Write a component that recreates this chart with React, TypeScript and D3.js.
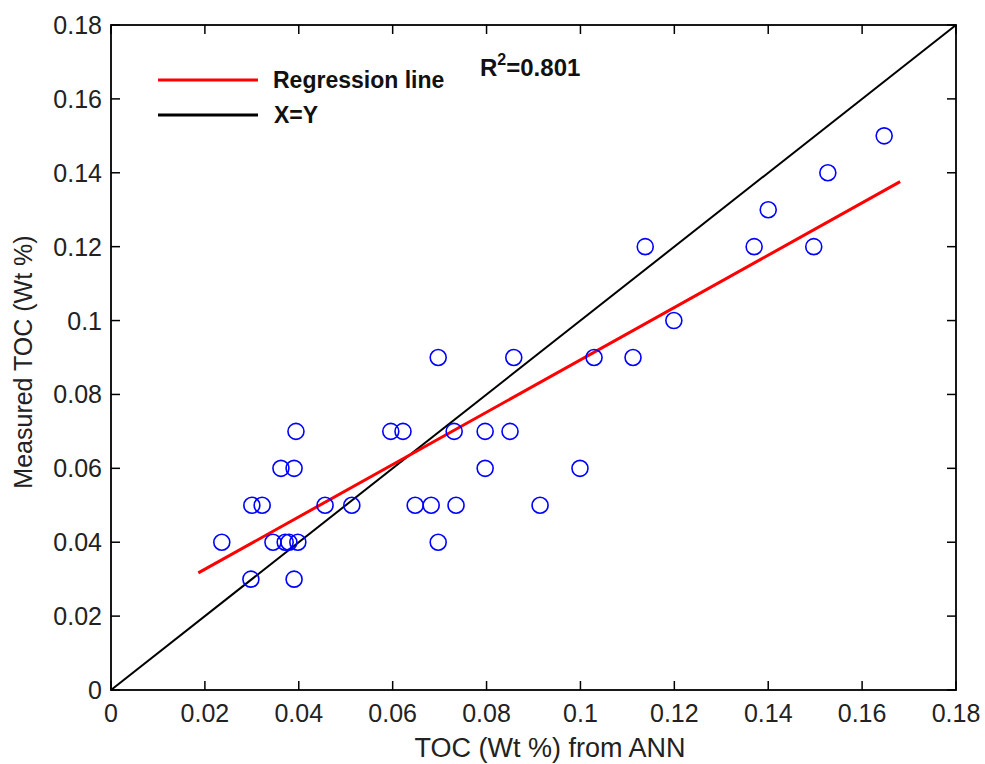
import React from "react";
import * as d3 from "d3";

const annTOC = [
  0.0298, 0.0390,
  0.0236, 0.0345, 0.0371, 0.0379, 0.0398, 0.0697,
  0.0300, 0.0322, 0.0456, 0.0513, 0.0648, 0.0682, 0.0735, 0.0914,
  0.0362, 0.0390, 0.0797, 0.0999,
  0.0394, 0.0596, 0.0622, 0.0731, 0.0797, 0.0850,
  0.0697, 0.0858, 0.1029, 0.1112,
  0.1199,
  0.1138, 0.1370, 0.1497,
  0.1400,
  0.1527,
  0.1647,
];
const measuredTOC = [
  0.03, 0.03,
  0.04, 0.04, 0.04, 0.04, 0.04, 0.04,
  0.05, 0.05, 0.05, 0.05, 0.05, 0.05, 0.05, 0.05,
  0.06, 0.06, 0.06, 0.06,
  0.07, 0.07, 0.07, 0.07, 0.07, 0.07,
  0.09, 0.09, 0.09, 0.09,
  0.10,
  0.12, 0.12, 0.12,
  0.13,
  0.14,
  0.15,
];
const regressionX = [0.0186, 0.1681];
const regressionY = [0.0317, 0.1376];
const identityLine = [0, 0.18];
const tickValues = [0, 0.02, 0.04, 0.06, 0.08, 0.1, 0.12, 0.14, 0.16, 0.18];
const tickLabels = ["0", "0.02", "0.04", "0.06", "0.08", "0.1", "0.12", "0.14", "0.16", "0.18"];
const legendLabels = ["Regression line", "X=Y"];
const rSquared = "0.801";

const W = 985;
const H = 764;
const L = 111, R = 956, T = 25, B = 690;
const TICK = 9;
const FONT = "'Liberation Sans', Arial, sans-serif";

export default function App() {
  const x = d3.scaleLinear().domain([0, 0.18]).range([L, R]);
  const y = d3.scaleLinear().domain([0, 0.18]).range([B, T]);
  const line = d3.line<[number, number]>().x((d) => x(d[0])).y((d) => y(d[1]));
  const reg: [number, number][] = regressionX.map((v, i) => [v, regressionY[i]]);
  const idl: [number, number][] = identityLine.map((v) => [v, v]);

  return (
    <svg width={W} height={H} style={{ position: "absolute", left: 0, top: 0, background: "#fff" }} fontFamily={FONT}>
      <rect x={0} y={0} width={W} height={H} fill="#fff" />
      <path d={line(idl) || ""} stroke="#000" strokeWidth={2} fill="none" />
      <path d={line(reg) || ""} stroke="#ff0000" strokeWidth={3} fill="none" />
      {annTOC.map((v, i) => (
        <circle key={i} cx={x(v)} cy={y(measuredTOC[i])} r={8} fill="none" stroke="#0000ff" strokeWidth={1.6} />
      ))}
      <rect x={L} y={T} width={R - L} height={B - T} fill="none" stroke="#000" strokeWidth={1.8} />
      {tickValues.map((t, i) => (
        <g key={"t" + i}>
          <line x1={x(t)} x2={x(t)} y1={B} y2={B - TICK} stroke="#000" strokeWidth={1.5} />
          <line x1={x(t)} x2={x(t)} y1={T} y2={T + TICK} stroke="#000" strokeWidth={1.5} />
          <line x1={L} x2={L + TICK} y1={y(t)} y2={y(t)} stroke="#000" strokeWidth={1.5} />
          <line x1={R} x2={R - TICK} y1={y(t)} y2={y(t)} stroke="#000" strokeWidth={1.5} />
          <text x={x(t)} y={B + 32} textAnchor="middle" fontSize={25} fill="#222">
            {tickLabels[i]}
          </text>
          <text x={L - 9} y={y(t) + 9} textAnchor="end" fontSize={25} fill="#222">
            {tickLabels[i]}
          </text>
        </g>
      ))}
      <text x={550} y={757} textAnchor="middle" fontSize={27} fill="#222">
        TOC (Wt %) from ANN
      </text>
      <text transform={`translate(32,362) rotate(-90)`} textAnchor="middle" fontSize={25} fill="#222">
        Measured TOC (Wt %)
      </text>
      <line x1={158} x2={258} y1={80} y2={80} stroke="#ff0000" strokeWidth={3} />
      <line x1={158} x2={258} y1={115} y2={115} stroke="#000" strokeWidth={3} />
      <text x={273} y={88} fontSize={23} fontWeight="bold" fill="#111">
        {legendLabels[0]}
      </text>
      <text x={274} y={123} fontSize={23} fontWeight="bold" fill="#111">
        {legendLabels[1]}
      </text>
      <text x={480} y={76} fontSize={24} fontWeight="bold" fill="#111">
        R<tspan dy={-11} fontSize={16}>2</tspan>
        <tspan dy={11}>={rSquared}</tspan>
      </text>
    </svg>
  );
}
